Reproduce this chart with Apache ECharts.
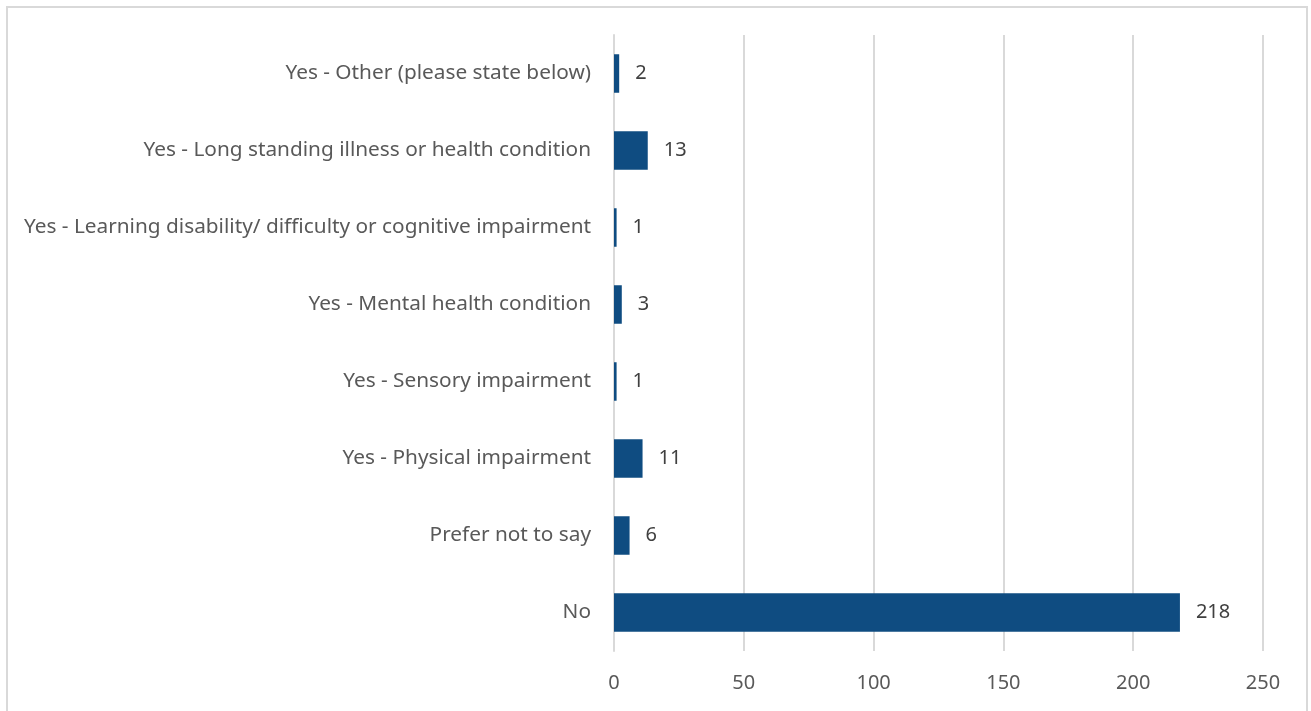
<!DOCTYPE html>
<html><head><meta charset="utf-8">
<script src="https://cdn.jsdelivr.net/npm/echarts@6/dist/echarts.min.js"></script>
<style>
html,body{margin:0;padding:0;background:#fff;}
#frame{position:absolute;left:6px;top:6px;width:1302px;height:710px;border:1px solid #d9d9d9;border-width:2px 2px 0 2px;box-sizing:border-box;}
#c{position:absolute;left:0;top:0;width:1311px;height:711px;}
</style></head>
<body>
<div id="frame"></div>
<div id="c"></div>
<script>
const categories = ["No","Prefer not to say","Yes - Physical impairment","Yes - Sensory impairment","Yes - Mental health condition","Yes - Learning disability/ difficulty or cognitive impairment","Yes - Long standing illness or health condition","Yes - Other (please state below)"];
const values = [218,6,11,1,3,1,13,2];
const xTicks = [0,50,100,150,200,250];

const chart = echarts.init(document.getElementById('c'), null, {renderer:'canvas'});
const font = '"Noto Sans", "Open Sans", sans-serif';
chart.setOption({
  animation:false,
  grid:{left:614,right:48,top:35,bottom:60,containLabel:false},
  xAxis:{type:'value',min:xTicks[0],max:xTicks[xTicks.length-1],interval:50,
    axisLine:{show:false},axisTick:{show:false},
    splitLine:{show:true,lineStyle:{color:'#d9d9d9',width:2}},
    axisLabel:{color:'#595959',fontSize:20,fontFamily:font,margin:22}},
  yAxis:{type:'category',data:categories,
    axisLine:{show:true,lineStyle:{color:'#d9d9d9',width:2}},axisTick:{show:false},
    axisLabel:{color:'#595959',fontSize:20.8,fontFamily:font,margin:23,padding:[4,0,0,0]}},
  series:[{type:'bar',data:values,barCategoryGap:'50%',
    itemStyle:{color:'#0f4c81'},
    label:{show:true,position:'right',distance:16,color:'#404040',fontSize:20,fontFamily:font,padding:[4,0,0,0]}}]
});
</script>
</body></html>
